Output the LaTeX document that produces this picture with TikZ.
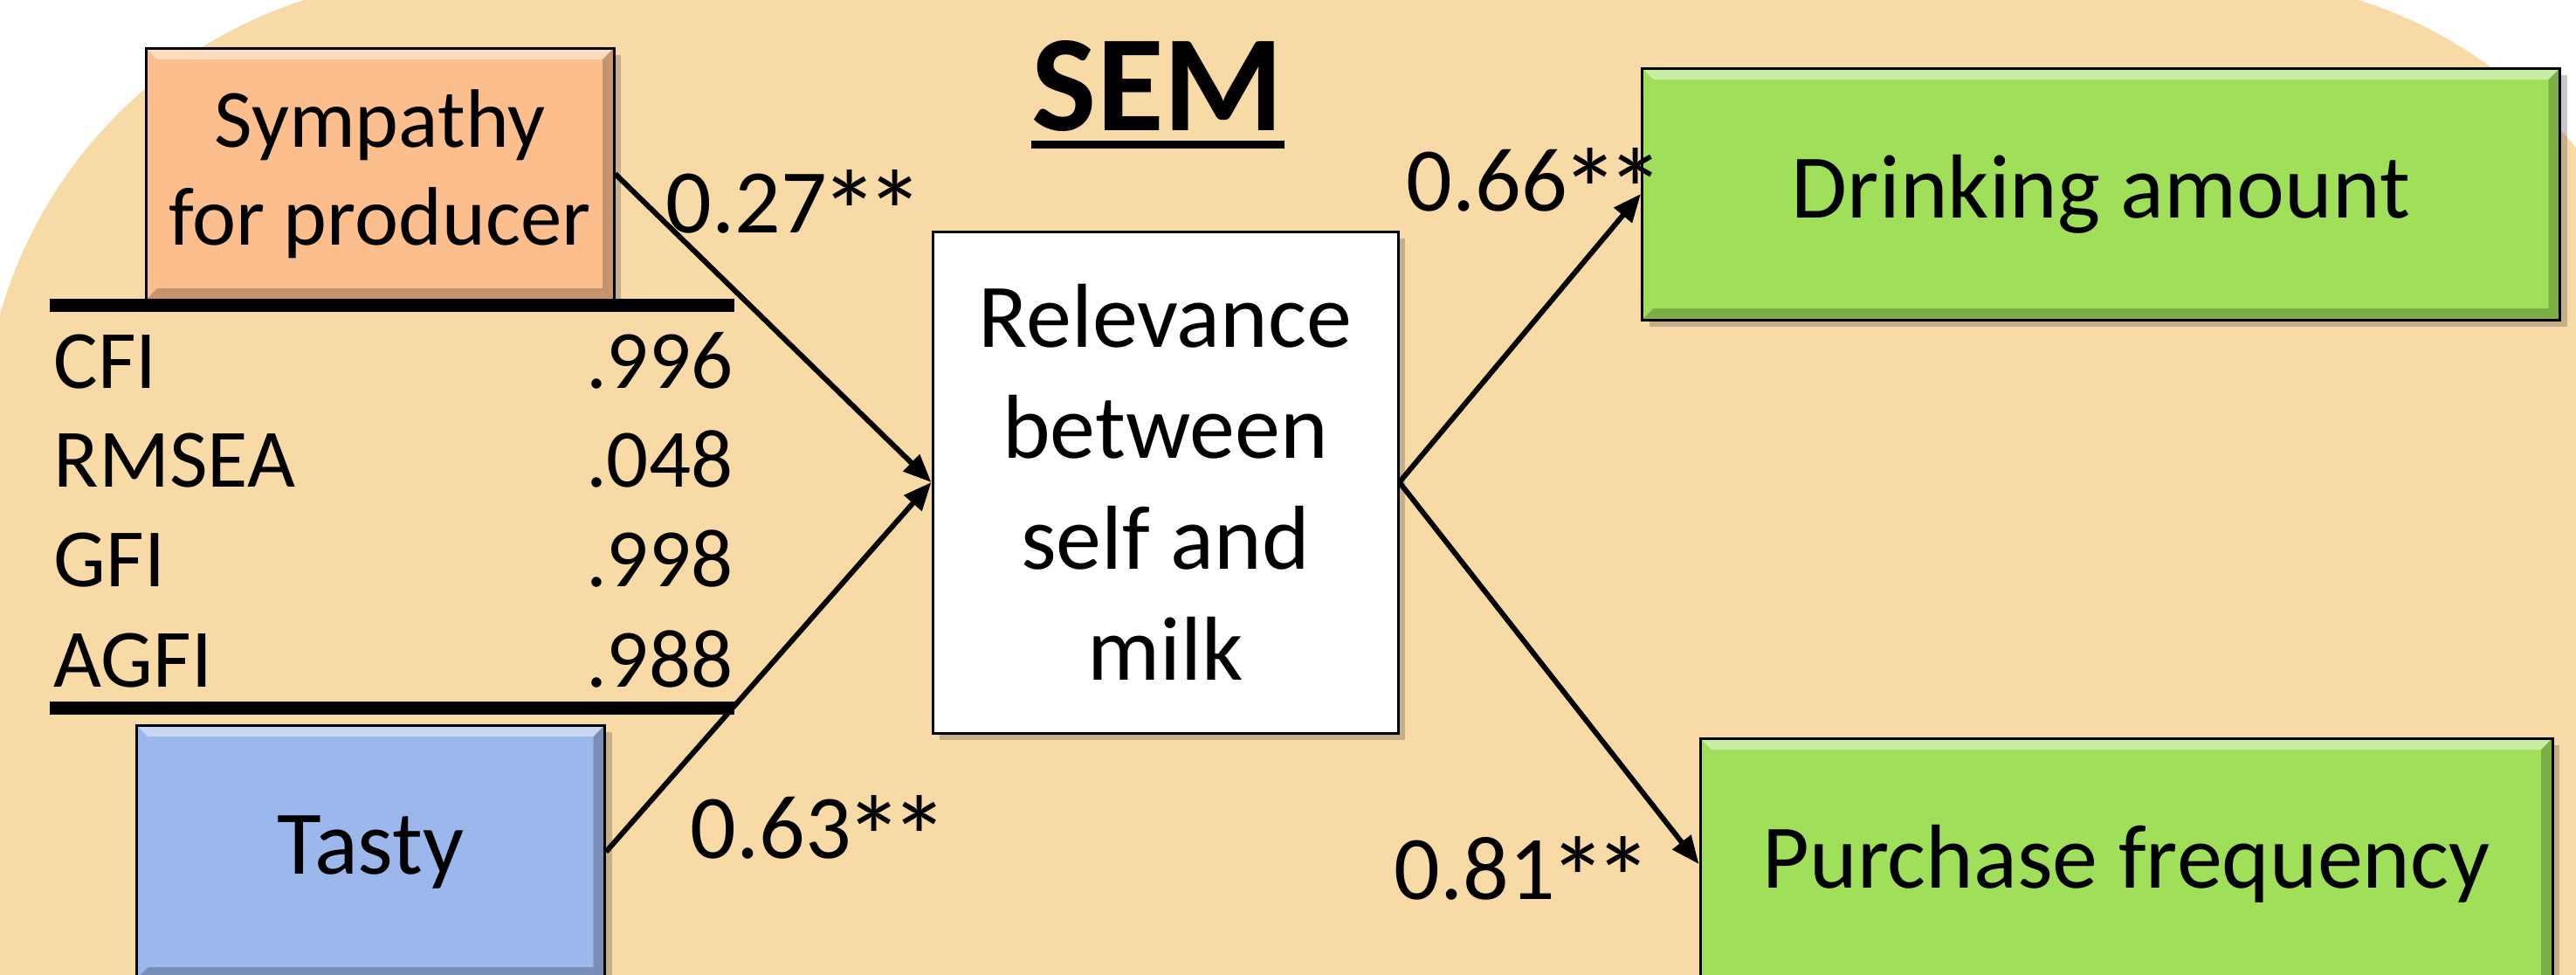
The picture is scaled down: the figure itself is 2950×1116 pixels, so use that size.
\documentclass[tikz,border=0pt]{standalone}
\usepackage{fontspec}
\usepackage{graphicx}
\setmainfont{Carlito}
\usetikzlibrary{arrows.meta,shadows}
\definecolor{SandBg}{HTML}{F8DAA6}
\definecolor{PeachFill}{HTML}{FBBE8C}
\definecolor{SkyFill}{HTML}{9BB7EB}
\definecolor{LeafFill}{HTML}{A0DF5A}
\newcommand{\sigstar}{\makebox[0.5em]{\raisebox{-0.24em}{\scalebox{1.3}{*}}}}

\begin{document}
\begin{tikzpicture}[x=0.1mm, y=-0.1mm,
      every node/.style={font=\fontsize{29.6}{36.1}\selectfont, text=black},
      bevel/.style={path picture={
          \fill[white,opacity=.45] (path picture bounding box.north west) -- (path picture bounding box.north east)
            -- ([shift={(-1.3mm,-1.3mm)}]path picture bounding box.north east)
            -- ([shift={(1.3mm,-1.3mm)}]path picture bounding box.north west) -- cycle;
          \fill[black,opacity=.22] (path picture bounding box.south west) -- (path picture bounding box.south east)
            -- ([shift={(-1.3mm,1.3mm)}]path picture bounding box.south east)
            -- ([shift={(1.3mm,1.3mm)}]path picture bounding box.south west) -- cycle;
          \fill[black,opacity=.22] (path picture bounding box.north east) -- (path picture bounding box.south east)
            -- ([shift={(-1.3mm,1.3mm)}]path picture bounding box.south east)
            -- ([shift={(-1.3mm,-1.3mm)}]path picture bounding box.north east) -- cycle;
        }},
      VB/.style={draw=black, line width=0.3mm, align=center, inner sep=0pt,
          drop shadow={shadow xshift=0.8mm, shadow yshift=-0.8mm, opacity=0.3, fill=black!70}},
      IN/.style={VB, bevel, minimum width=53.6mm, minimum height=28.8mm},
      OUT/.style={VB, bevel, fill=LeafFill, minimum height=28.8mm},
      fitrow/.style={font=\fontsize{27}{32}\selectfont, inner sep=0pt},
      lbl/.style={inner sep=0pt, anchor=base west},
      ar/.style={-{Triangle[length=3.2mm,width=2.6mm]}, line width=0.6mm},
    ]
    \useasboundingbox (0,0) rectangle (2950,1116);
    \clip (0,0) rectangle (2950,1116);
    \fill[white] (0,0) rectangle (2950,1116);
    \fill[SandBg, rounded corners=53mm] (-20,-25) rectangle (3070,1700);

    % Title
    \node[font=\fontsize{44.7}{50}\selectfont\bfseries, inner sep=0pt, anchor=base] (ttl) at (1326,149) {SEM};
    \draw[line width=0.9mm] ([yshift=-1.6mm]ttl.base west) -- ([yshift=-1.6mm]ttl.base east);

    % Inputs
    \node[IN, fill=PeachFill, font=\fontsize{27}{31.9}\selectfont] (sym) at (435,199) {Sympathy\\for producer};
    \node[IN, fill=SkyFill, minimum height=29mm] (tasty) at (424.5,975) {Tasty};

    % Mediator
    \node[VB, fill=white, minimum width=53.3mm, minimum height=57.4mm] (rel) at (1334.5,552)
    {Relevance\\between\\self and\\milk};

    % Outcomes
    \node[OUT, minimum width=105.1mm] (drink) at (2406,222) {Drinking amount};
    \node[OUT, minimum width=97.6mm] (purch) at (2435,989) {Purchase frequency};

    % Fit indices
    \draw[line width=1.5mm] (57,349.5) -- (841,349.5);
    \foreach \k/\v/\y in {CFI/.996/444,RMSEA/.048/557,GFI/.998/671,AGFI/.988/786}{
        \node[fitrow, anchor=base west] (k-\k) at (61,\y) {\k};
        \node[fitrow, anchor=base east] (v-\k) at (840,\y) {\v};
      }
    \draw[line width=1.5mm] (57,810) -- (841,810);

    % Paths
    \foreach \a/\b in {sym/rel,tasty/rel,rel/drink,rel/purch}
    \draw[ar] (\a.east) -- (\b.west);

    \node[lbl] (w1) at (762,266) {0.27\sigstar\sigstar};
    \node[lbl] (w2) at (790,982) {0.63\sigstar\sigstar};
    \node[lbl] (w3) at (1610,241) {0.66\sigstar\sigstar};
    \node[lbl] (w4) at (1596,1029) {0.81\sigstar\sigstar};
  \end{tikzpicture}
\end{document}
